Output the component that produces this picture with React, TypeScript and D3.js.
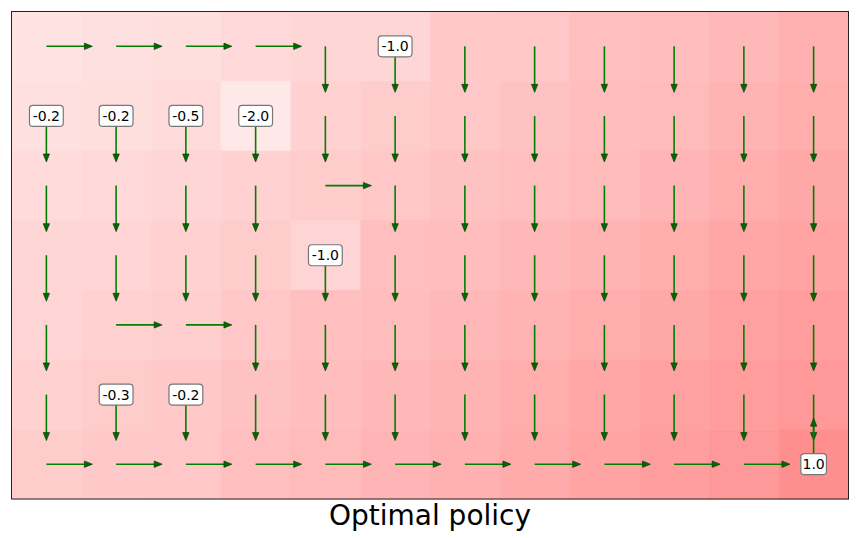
import React, { useRef, useEffect } from 'react';
import * as d3 from 'd3';

// grid shading (value estimate, 0-100 intensity), row by row from the top
const rows = [0, 1, 2, 3, 4, 5, 6];
const cols = [0, 1, 2, 3, 4, 5, 6, 7, 8, 9, 10, 11];
const values = [
  [11, 12, 13, 15, 16, 16, 21, 22, 25, 26, 28, 31],
  [12, 13, 14, 9, 18, 20, 22, 24, 26, 27, 30, 32],
  [14, 15, 16, 18, 20, 22, 24, 25, 27, 29, 32, 34],
  [16, 16.5, 18, 20, 17, 25, 26, 28, 30, 32, 35, 36],
  [17, 18, 19, 22, 25, 26, 28, 30, 32, 34, 37, 39],
  [18, 20, 21, 24, 26, 28, 30, 32, 35, 37, 39, 40],
  [20, 21, 22, 25, 27, 29, 31, 33, 36, 38, 40, 44],
];
// policy: R = right, D = down, U = up
const policy = [
  'RRRRDDDDDDDD',
  'DDDDDDDDDDDD',
  'DDDDRDDDDDDD',
  'DDDDDDDDDDDD',
  'DRRDDDDDDDDD',
  'DDDDDDDDDDDD',
  'RRRRRRRRRRRU',
];
const rewards = [
  { row: 0, col: 5, label: '-1.0' },
  { row: 1, col: 0, label: '-0.2' },
  { row: 1, col: 1, label: '-0.2' },
  { row: 1, col: 2, label: '-0.5' },
  { row: 1, col: 3, label: '-2.0' },
  { row: 3, col: 4, label: '-1.0' },
  { row: 5, col: 1, label: '-0.3' },
  { row: 5, col: 2, label: '-0.2' },
  { row: 6, col: 11, label: '1.0' },
];
const title = 'Optimal policy';

export default function App() {
  const ref = useRef<SVGSVGElement>(null);

  useEffect(() => {
    const width = 858;
    const height = 538;
    const margin = { top: 11.5, right: 9.5, bottom: 39, left: 11.5 };

    const svg = d3.select(ref.current);
    svg.selectAll('*').remove();

    const x = d3
      .scaleBand<number>()
      .domain(cols)
      .range([margin.left, width - margin.right]);
    const y = d3
      .scaleBand<number>()
      .domain(rows)
      .range([margin.top, height - margin.bottom]);
    const color = d3
      .scaleLinear<string>()
      .domain([0, 100])
      .range(['#ffffff', '#ff0000'])
      .interpolate(d3.interpolateRgb);

    const cells = rows.flatMap(r => cols.map(c => ({ r, c, v: values[r][c], d: policy[r][c] })));

    // heatmap
    svg
      .append('g')
      .selectAll('rect')
      .data(cells)
      .join('rect')
      .attr('x', d => x(d.c)!)
      .attr('y', d => y(d.r)!)
      .attr('width', x.bandwidth() + 0.5)
      .attr('height', y.bandwidth() + 0.5)
      .attr('fill', d => color(d.v));

    // arrows
    const len = x.bandwidth() * 0.66;
    const headL = 8;
    const headW = 3.2;
    const dirs: Record<string, [number, number]> = { R: [1, 0], D: [0, 1], U: [0, -1] };
    const ag = svg.append('g');
    cells.forEach(d => {
      const [dx, dy] = dirs[d.d];
      const cx = x(d.c)! + x.bandwidth() / 2;
      const cy = y(d.r)! + y.bandwidth() / 2;
      const tx = cx + dx * len;
      const ty = cy + dy * len;
      ag.append('line')
        .attr('x1', cx)
        .attr('y1', cy)
        .attr('x2', tx - dx * headL * 0.5)
        .attr('y2', ty - dy * headL * 0.5)
        .attr('stroke', '#008000')
        .attr('stroke-width', 1.6);
      const bx = tx - dx * headL;
      const by = ty - dy * headL;
      const pts = [
        [tx, ty],
        [bx - dy * headW, by + dx * headW],
        [bx + dy * headW, by - dx * headW],
      ];
      ag.append('polygon')
        .attr('points', pts.map(p => p.join(',')).join(' '))
        .attr('fill', '#006a00')
        .attr('stroke', '#003300')
        .attr('stroke-width', 0.6);
    });

    // reward labels
    const lg = svg.append('g');
    rewards.forEach(d => {
      const cx = x(d.col)! + x.bandwidth() / 2;
      const cy = y(d.row)! + y.bandwidth() / 2;
      const w = d.label.length * 8.2 + 1;
      const h = 21;
      lg.append('rect')
        .attr('x', cx - w / 2)
        .attr('y', cy - h / 2)
        .attr('width', w)
        .attr('height', h)
        .attr('rx', 3.5)
        .attr('fill', '#ffffff')
        .attr('stroke', '#777777')
        .attr('stroke-width', 1.2);
      lg.append('text')
        .attr('x', cx)
        .attr('y', cy)
        .attr('text-anchor', 'middle')
        .attr('dominant-baseline', 'central')
        .attr('font-family', 'DejaVu Sans')
        .attr('font-size', 14)
        .attr('fill', '#000')
        .text(d.label);
    });

    // frame
    svg
      .append('rect')
      .attr('x', margin.left)
      .attr('y', margin.top)
      .attr('width', width - margin.left - margin.right)
      .attr('height', height - margin.top - margin.bottom)
      .attr('fill', 'none')
      .attr('stroke', '#222')
      .attr('stroke-width', 1);

    // title
    svg
      .append('text')
      .attr('x', (margin.left + width - margin.right) / 2)
      .attr('y', 525)
      .attr('text-anchor', 'middle')
      .attr('font-family', 'DejaVu Sans')
      .attr('font-size', 28)
      .attr('fill', '#000')
      .text(title);
  }, []);

  return (
    <svg
      ref={ref}
      width={858}
      height={538}
      style={{ position: 'absolute', left: 0, top: 0, background: '#fff' }}
    />
  );
}
